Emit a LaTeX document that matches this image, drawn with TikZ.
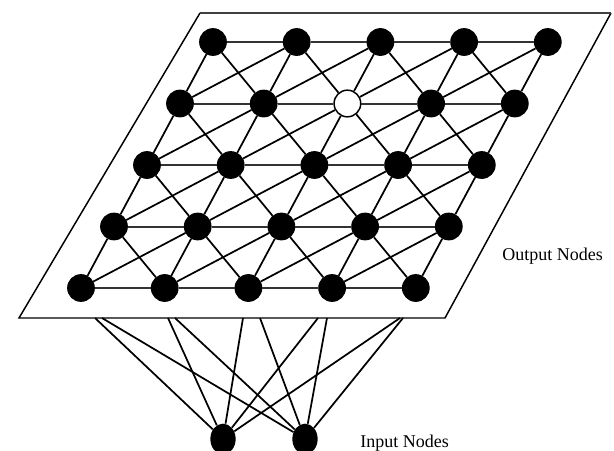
\documentclass[tikz,border=0pt]{standalone}
\usepackage{fontspec}
\setmainfont{Liberation Serif}
\usetikzlibrary{shapes.geometric}
\begin{document}
\begin{tikzpicture}[x=0.75pt,y=-0.75pt,
  link/.style={line width=1.3pt,black},
  rowlink/.style={line width=1.5pt,black!80},
  frame/.style={line width=1.1pt,black},
  unit/.style={circle,fill=black,draw=black,line width=0.8pt,minimum size=20pt,inner sep=0pt},
  winner/.style={circle,fill=white,draw=black,line width=1.1pt,minimum size=20pt,inner sep=0pt},
  inunit/.style={ellipse,fill=black,minimum width=19pt,minimum height=23pt,inner sep=0pt},
  caption/.style={font=\fontsize{13.5}{16}\selectfont,anchor=base west,inner sep=0pt}]
\useasboundingbox (0,0) rectangle (614,450);

% output plane
\coordinate (pTL) at (200,13);
\coordinate (pTR) at (611,13);
\coordinate (pBR) at (445,318);
\coordinate (pBL) at (19,318);
\draw[frame] (pTL) -- (pBL) -- (pBR) -- (pTR);
\draw[line width=1.7pt,black!75] (pTL) -- (pTR);

% 5 x 5 output lattice, rows sheared to the left
\foreach \r in {1,...,5}{
  \foreach \c in {1,...,5}{
    \pgfmathsetmacro{\px}{213+83.7*(\c-1)-33*(\r-1)}
    \pgfmathsetmacro{\py}{42+61.5*(\r-1)}
    \ifnum\r=2 \ifnum\c=3
      \node[winner] (n-\r-\c) at (\px,\py) {};
    \else
      \node[unit] (n-\r-\c) at (\px,\py) {};
    \fi \else
      \node[unit] (n-\r-\c) at (\px,\py) {};
    \fi
  }
}

% links along each row
\foreach \r in {1,...,5}{
  \foreach \c [evaluate=\c as \d using int(\c+1)] in {1,...,4}{
    \draw[rowlink] (n-\r-\c) -- (n-\r-\d);
  }
}
% links between neighbouring rows
\foreach \r [evaluate=\r as \s using int(\r+1)] in {1,...,4}{
  \foreach \c in {1,...,5}{
    \draw[link] (n-\r-\c) -- (n-\s-\c);
  }
  \foreach \c [evaluate=\c as \d using int(\c+1)] in {1,...,4}{
    \draw[link] (n-\r-\c) -- (n-\s-\d);
    \draw[link] (n-\r-\d) -- (n-\s-\c);
  }
}

% input units
\node[inunit] (inA) at (223,439) {};
\node[inunit] (inB) at (305,439) {};

% attachment points on the lower edge of the plane
\foreach \i/\xa/\xb in {1/95/102, 2/168/175, 3/243/260, 4/318/327, 5/400/403}{
  \coordinate (a\i) at (\xa,318);
  \coordinate (b\i) at (\xb,318);
  \draw[link] (inA) -- (a\i);
  \draw[link] (inB) -- (b\i);
}

\node[caption] (outlabel) at (502,260) {Output Nodes};
\node[caption] (inlabel) at (360,447) {Input Nodes};
\end{tikzpicture}
\end{document}
